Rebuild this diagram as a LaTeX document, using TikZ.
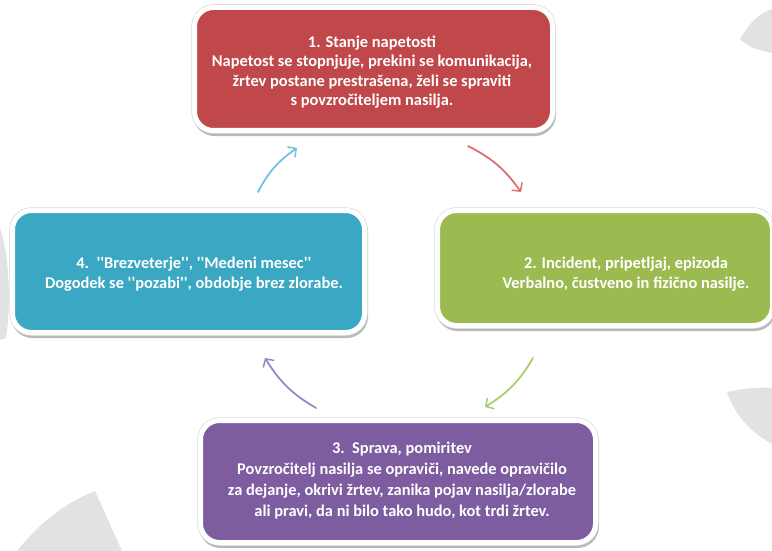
\documentclass[tikz,border=0pt]{standalone}
\usepackage{fontspec}
\newfontfamily\boxfont{Carlito}
\usetikzlibrary{arrows.meta,bending}
\definecolor{cred}{RGB}{192,72,74}
\definecolor{cgreen}{RGB}{155,187,80}
\definecolor{cblue}{RGB}{58,167,195}
\definecolor{cpurple}{RGB}{126,92,160}
\definecolor{bggray}{RGB}{225,226,228}
\definecolor{ared}{RGB}{224,110,110}
\definecolor{agreen}{RGB}{170,206,110}
\definecolor{ablue}{RGB}{110,196,222}
\definecolor{apurple}{RGB}{155,133,200}
\begin{document}
\begin{tikzpicture}[x=1pt,y=-1pt,
  stagebox/.style={rectangle, rounded corners=19pt, draw=white, line width=5pt,
    inner sep=0pt, outer sep=0pt,
    preaction={draw=black!28, fill=black!28, line width=5pt,
      transform canvas={xshift=1pt,yshift=-3pt}},
    preaction={draw=black!14, line width=6.5pt}},
  stagetext/.style={text=white, align=center, inner sep=0pt,
    font=\boxfont\bfseries\fontsize{16.4}{20}\selectfont},
  cyclearrow/.style={line width=1.8pt, line cap=round,
    -{Straight Barb[length=6pt,width=13pt,line width=1.5pt,bend]}},
  bgshape/.style={fill=bggray, draw=none}]
\useasboundingbox (0,0) rectangle (772,551);
\clip (0,0) rectangle (772,551);
% background ring pieces
\fill[bgshape] (740,39) .. controls (750,22) and (760,13) .. (772,9) -- (772,53) .. controls (760,51) and (748,47) .. (740,39) -- cycle;
\fill[bgshape] (727,392) .. controls (745,388) and (760,387) .. (772,388) -- (772,444) .. controls (752,433) and (735,416) .. (727,392) -- cycle;
\fill[bgshape] (95,491) -- (122,551) -- (17,551) .. controls (37,526) and (62,504) .. (95,491) -- cycle;
\fill[bgshape] (0,228) .. controls (8,250) and (12,300) .. (6,338) -- (0,340) -- cycle;
% boxes
\node[stagebox, fill=cred, minimum width=358pt, minimum height=123pt] (b1) at (373.5,69) {};
\node[stagebox, fill=cgreen, minimum width=335pt, minimum height=115pt] (b2) at (605,268) {};
\node[stagebox, fill=cpurple, minimum width=395pt, minimum height=122pt] (b3) at (398,481.5) {};
\node[stagebox, fill=cblue, minimum width=352pt, minimum height=122pt] (b4) at (188.5,271.5) {};
% texts
\node[stagetext, font=\boxfont\bfseries\fontsize{16.4}{19.3}\selectfont] (t1) at (372,72) {1. Stanje napetosti\\Napetost se stopnjuje, prekini se komunikacija,\\žrtev postane prestrašena, želi se spraviti\\s povzročiteljem nasilja.};
\node[stagetext] (t2) at (626,274) {2. Incident, pripetljaj, epizoda\\Verbalno, čustveno in fizično nasilje.};
\node[stagetext, font=\boxfont\bfseries\fontsize{16.4}{21}\selectfont] (t3) at (402,481) {3.\ \ Sprava, pomiritev\\Povzročitelj nasilja se opraviči, navede opravičilo\\za dejanje, okrivi žrtev, zanika pojav nasilja/zlorabe\\ali pravi, da ni bilo tako hudo, kot trdi žrtev.};
\node[stagetext] (t4) at (194,274) {4.\ \ ''Brezveterje'', ''Medeni mesec''\\Dogodek se ''pozabi'', obdobje brez zlorabe.};
% arrow ends
\coordinate (a1s) at (258,192); \coordinate (a1e) at (297,148);
\coordinate (a2s) at (468,146); \coordinate (a2e) at (521,192);
\coordinate (a3s) at (533,358); \coordinate (a3e) at (485,407);
\coordinate (a4s) at (316,408); \coordinate (a4e) at (265,358);
\draw[cyclearrow, ablue] (a1s) to[bend left=14] (a1e);
\draw[cyclearrow, ared] (a2s) to[bend left=14] (a2e);
\draw[cyclearrow, agreen] (a3s) to[bend left=14] (a3e);
\draw[cyclearrow, apurple] (a4s) to[bend left=14] (a4e);
\end{tikzpicture}
\end{document}
